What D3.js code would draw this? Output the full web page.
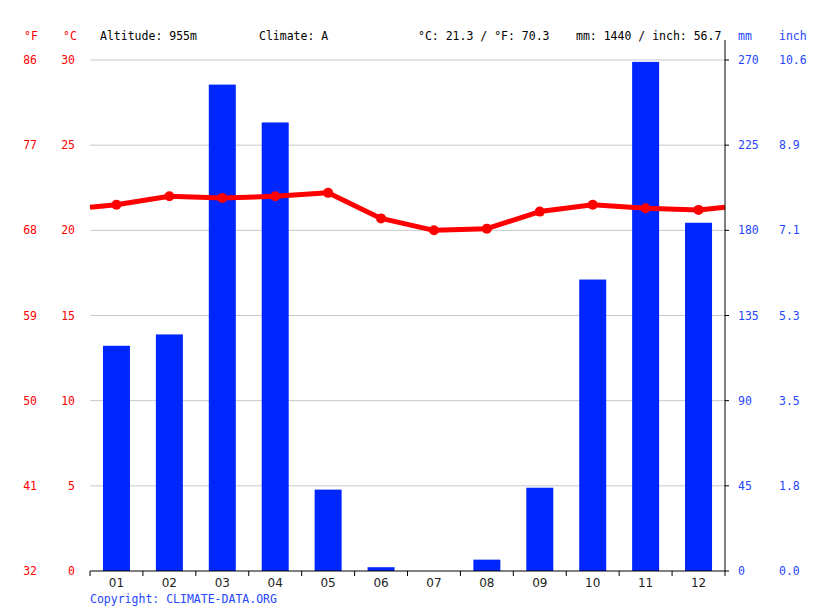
<!DOCTYPE html>
<html>
<head>
<meta charset="utf-8">
<script src="https://cdn.jsdelivr.net/npm/d3@7"></script>
<style>
  body { margin: 0; background: #fff; }
  text { font-family: 'DejaVu Sans Mono', monospace; font-size: 11.5px; }
</style>
</head>
<body>
<div class="container"></div>
<script>
const months = ['01', '02', '03', '04', '05', '06', '07', '08', '09', '10', '11', '12'];
const precip = [119, 125, 257, 237, 43, 2, 0, 6, 44, 154, 269, 184];
const temp = [21.5, 22.0, 21.9, 22.0, 22.2, 20.7, 20.0, 20.1, 21.1, 21.5, 21.3, 21.2];
const tempTicks = [0, 5, 10, 15, 20, 25, 30];
const fTicks = ['32', '41', '50', '59', '68', '77', '86'];
const mmTicks = [0, 45, 90, 135, 180, 225, 270];
const inchTicks = ['0.0', '1.8', '3.5', '5.3', '7.1', '8.9', '10.6'];

const width = 815;
const height = 611;
const padding = { top: 60, left: 90, right: 90, bottom: 40 };
const red = '#ff0000';
const blue = '#0026ff';
const labelBlue = '#2646ff';

const x = d3.scaleBand()
  .domain(months)
  .range([padding.left, width - padding.right]);

const yT = d3.scaleLinear()
  .domain([0, 30])
  .range([height - padding.bottom, padding.top]);

const yP = d3.scaleLinear()
  .domain([0, 270])
  .range([height - padding.bottom, padding.top]);

const svg = d3.select('.container')
  .append('svg')
  .attr('width', width)
  .attr('height', height);

// grid
svg.append('g')
  .selectAll('line')
  .data(tempTicks.slice(1))
  .enter()
  .append('line')
  .attr('x1', padding.left)
  .attr('x2', width - padding.right)
  .attr('y1', d => yT(d))
  .attr('y2', d => yT(d))
  .attr('stroke', '#c8c8c8')
  .attr('stroke-width', 1);

// bars
const barW = 27;
svg.append('g')
  .selectAll('rect')
  .data(precip)
  .enter()
  .append('rect')
  .attr('x', (d, i) => x(months[i]) + x.bandwidth() / 2 - barW / 2)
  .attr('y', d => yP(d))
  .attr('width', barW)
  .attr('height', d => yP(0) - yP(d))
  .attr('fill', blue);

// temperature line, extended to edges with wrap-around
const bw = x.bandwidth();
const cx = i => x(months[i]) + bw / 2;
const pts = temp.map((d, i) => [cx(i), yT(d)]);
const leftPt = [cx(0) - bw, yT(temp[11])];
const rightPt = [cx(11) + bw, yT(temp[0])];
const x0 = padding.left, x1 = width - padding.right;
const lerp = (a, b, xv) => [xv, a[1] + (b[1] - a[1]) * (xv - a[0]) / (b[0] - a[0])];
const linePts = [lerp(leftPt, pts[0], x0), ...pts, lerp(pts[11], rightPt, x1)];

svg.append('path')
  .attr('d', d3.line()(linePts))
  .attr('fill', 'none')
  .attr('stroke', red)
  .attr('stroke-width', 5)
  .attr('stroke-linejoin', 'round');

svg.append('g')
  .selectAll('circle')
  .data(temp)
  .enter()
  .append('circle')
  .attr('cx', (d, i) => cx(i))
  .attr('cy', d => yT(d))
  .attr('r', 5)
  .attr('fill', red);

// bottom axis
const xAxis = d3.axisBottom(x).tickSize(0).tickPadding(7);
const gx = svg.append('g')
  .attr('transform', `translate(0, ${height - padding.bottom})`)
  .call(xAxis);
gx.select('.domain').remove();
gx.selectAll('text').attr('fill', '#222').style('font-family', "'DejaVu Sans', sans-serif").style('font-size', '12px');
svg.append('line')
  .attr('x1', padding.left).attr('x2', width - padding.right)
  .attr('y1', yT(0)).attr('y2', yT(0))
  .attr('stroke', '#000');
svg.append('g')
  .selectAll('line')
  .data(d3.range(13))
  .enter()
  .append('line')
  .attr('x1', i => padding.left + i * bw)
  .attr('x2', i => padding.left + i * bw)
  .attr('y1', yT(0))
  .attr('y2', yT(0) + 5)
  .attr('stroke', '#000');

// right axis line
svg.append('line')
  .attr('x1', x1).attr('x2', x1)
  .attr('y1', 40).attr('y2', yT(0))
  .attr('stroke', '#000');
svg.append('g')
  .selectAll('line')
  .data(mmTicks)
  .enter()
  .append('line')
  .attr('x1', x1).attr('x2', x1 + 4)
  .attr('y1', d => yP(d)).attr('y2', d => yP(d))
  .attr('stroke', '#000');

// left labels
svg.append('g')
  .selectAll('text')
  .data(tempTicks)
  .enter()
  .append('text')
  .attr('x', 75)
  .attr('y', d => yT(d) + 4)
  .attr('text-anchor', 'end')
  .attr('fill', red)
  .text(d => d);

svg.append('g')
  .selectAll('text')
  .data(fTicks)
  .enter()
  .append('text')
  .attr('x', 37)
  .attr('y', (d, i) => yT(tempTicks[i]) + 4)
  .attr('text-anchor', 'end')
  .attr('fill', red)
  .text(d => d);

// right labels
svg.append('g')
  .selectAll('text')
  .data(mmTicks)
  .enter()
  .append('text')
  .attr('x', 738)
  .attr('y', d => yP(d) + 4)
  .attr('fill', labelBlue)
  .text(d => d);

svg.append('g')
  .selectAll('text')
  .data(inchTicks)
  .enter()
  .append('text')
  .attr('x', 779)
  .attr('y', (d, i) => yP(mmTicks[i]) + 4)
  .attr('fill', labelBlue)
  .text(d => d);

// header
const header = [
  { t: '°F', x: 24, c: red },
  { t: '°C', x: 63, c: red },
  { t: 'Altitude: 955m', x: 100, c: '#000' },
  { t: 'Climate: A', x: 259, c: '#000' },
  { t: '°C: 21.3 / °F: 70.3', x: 418, c: '#000' },
  { t: 'mm: 1440 / inch: 56.7', x: 576, c: '#000' },
  { t: 'mm', x: 738, c: labelBlue },
  { t: 'inch', x: 779, c: labelBlue },
];
svg.append('g')
  .selectAll('text')
  .data(header)
  .enter()
  .append('text')
  .attr('x', d => d.x)
  .attr('y', 40)
  .attr('fill', d => d.c)
  .text(d => d.t);

svg.append('text')
  .attr('x', 90)
  .attr('y', 603)
  .attr('fill', labelBlue)
  .text('Copyright: CLIMATE-DATA.ORG');
</script>
</body>
</html>
